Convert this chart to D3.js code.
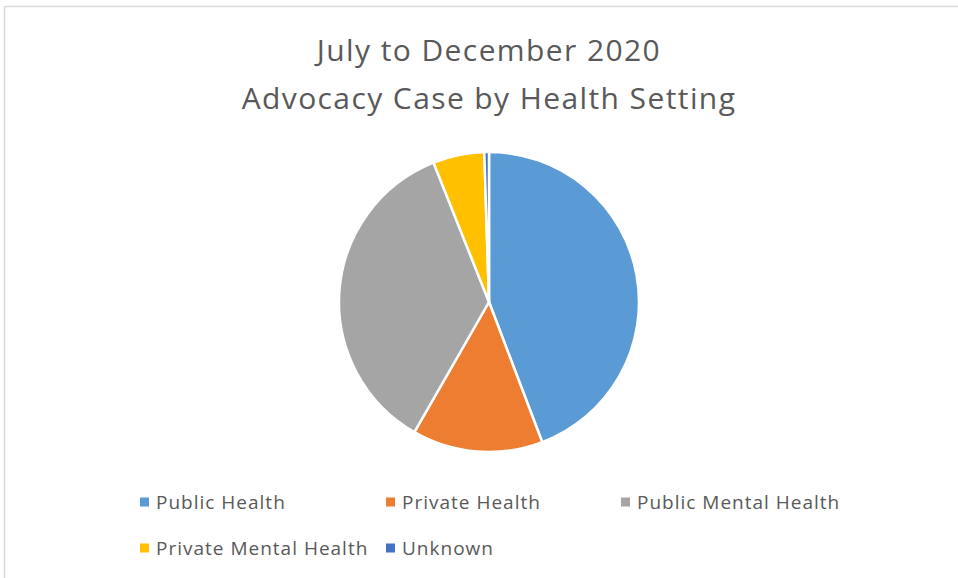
<!DOCTYPE html>
<html>
<head>
<meta charset="utf-8">
<script src="https://cdn.jsdelivr.net/npm/d3@7"></script>
<style>
  html, body { margin: 0; padding: 0; background: #fff; }
  svg { display: block; }
  text { font-family: "Open Sans", "Noto Sans", sans-serif; fill: #595959; }
</style>
</head>
<body>
<svg id="chart" width="958" height="578"></svg>
<script>
// Advocacy cases by health setting, July–December 2020
const categories = ["Public Health", "Private Health", "Public Mental Health", "Private Mental Health", "Unknown"];
const caseCounts = [88, 28, 71, 11, 1];
const sliceColors = ["#5B9BD5", "#ED7D31", "#A5A5A5", "#FFC000", "#4472C4"];
const titleLines = ["July to December 2020", "Advocacy Case by Health Setting"];

const svg = d3.select("#chart");
const W = 958, H = 578;

// chart area frame
svg.append("rect")
  .attr("x", 4.5).attr("y", 6.5)
  .attr("width", W + 10).attr("height", H + 10)
  .attr("fill", "#fff").attr("stroke", "#D9D9D9").attr("stroke-width", 1.5);

// title
svg.append("g").selectAll("text")
  .data(titleLines)
  .join("text")
  .attr("x", 489)
  .attr("y", (d, i) => 61 + i * 48)
  .attr("text-anchor", "middle")
  .attr("font-size", 30)
  .attr("letter-spacing", 1.4)
  .text(d => d);

// pie
const cx = 489, cy = 302, r = 150;
const data = categories.map((c, i) => ({ name: c, value: caseCounts[i] }));
const pie = d3.pie().value(d => d.value).sort(null);
const arc = d3.arc().innerRadius(0).outerRadius(r);
const color = d3.scaleOrdinal().domain(categories).range(sliceColors);

svg.append("g")
  .attr("transform", `translate(${cx},${cy})`)
  .selectAll("path")
  .data(pie(data))
  .join("path")
  .attr("d", arc)
  .attr("fill", d => color(d.data.name))
  .attr("stroke", "#fff")
  .attr("stroke-width", 2.5)
  .attr("stroke-linejoin", "round");

// legend
const legendPos = [
  { x: 140, y: 502 },
  { x: 386, y: 502 },
  { x: 621, y: 502 },
  { x: 140, y: 548 },
  { x: 386, y: 548 }
];
const legend = svg.append("g").selectAll("g")
  .data(categories)
  .join("g")
  .attr("transform", (d, i) => `translate(${legendPos[i].x},${legendPos[i].y})`);
legend.append("rect")
  .attr("x", 0).attr("y", -4.5)
  .attr("width", 9).attr("height", 9)
  .attr("fill", d => color(d));
legend.append("text")
  .attr("x", 16).attr("y", 0)
  .attr("dy", "0.36em")
  .attr("font-size", 19)
  .attr("letter-spacing", 1)
  .text(d => d);
</script>
</body>
</html>
